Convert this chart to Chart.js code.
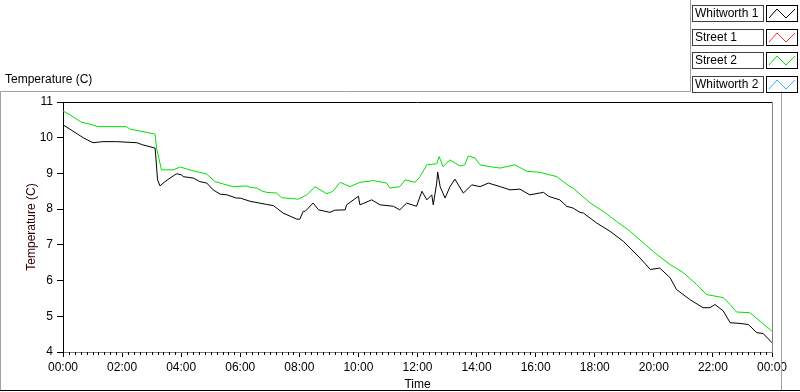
<!DOCTYPE html>
<html>
<head>
<meta charset="utf-8">
<script src="https://cdn.jsdelivr.net/npm/chart.js@4"></script>
<style>
  html, body { margin: 0; padding: 0; background: #fff; }
  #wrap { width: 800px; height: 392px; position: relative; }
</style>
</head>
<body>
<div id="wrap"><canvas id="tempchart" width="800" height="392"></canvas></div>
<script>
// time in minutes after midnight, values in deg C
const whitworth1Time = [0, 14, 41, 61, 81, 109, 150, 162, 187, 189, 192, 197, 207, 227, 231, 241, 244, 265, 278, 292, 305, 319, 333, 352, 360, 380, 414, 427, 434, 447, 475, 481, 488, 492, 508, 519, 542, 552, 573, 576, 600, 603, 627, 644, 671, 684, 698, 718, 729, 739, 749, 752, 759, 761, 766, 776, 786, 796, 813, 820, 830, 847, 864, 888, 908, 928, 948, 976, 986, 1009, 1016, 1023, 1036, 1050, 1057, 1084, 1111, 1138, 1172, 1193, 1212, 1233, 1246, 1273, 1300, 1314, 1324, 1341, 1355, 1375, 1392, 1409, 1422, 1440];
const whitworth1 = [10.36, 10.24, 10.00, 9.86, 9.89, 9.89, 9.86, 9.80, 9.71, 9.38, 8.82, 8.65, 8.77, 8.96, 8.99, 8.96, 8.91, 8.87, 8.77, 8.73, 8.54, 8.42, 8.40, 8.31, 8.31, 8.22, 8.13, 8.10, 8.03, 7.89, 7.72, 7.72, 7.94, 7.94, 8.17, 7.98, 7.91, 7.97, 7.98, 8.12, 8.36, 8.12, 8.26, 8.12, 8.08, 7.98, 8.17, 8.08, 8.50, 8.26, 8.40, 8.12, 8.73, 9.04, 8.63, 8.31, 8.63, 8.84, 8.45, 8.54, 8.68, 8.63, 8.73, 8.63, 8.54, 8.56, 8.40, 8.47, 8.36, 8.26, 8.17, 8.08, 8.03, 7.91, 7.89, 7.61, 7.38, 7.10, 6.63, 6.31, 6.35, 6.08, 5.75, 5.47, 5.24, 5.24, 5.33, 5.15, 4.82, 4.80, 4.77, 4.54, 4.52, 4.26];

const street2Time = [0, 14, 38, 55, 71, 129, 136, 170, 187, 190, 200, 224, 238, 265, 278, 292, 309, 345, 373, 380, 393, 406, 414, 434, 444, 478, 495, 512, 522, 536, 548, 563, 583, 603, 630, 657, 664, 684, 695, 715, 725, 739, 759, 764, 772, 786, 806, 816, 823, 837, 847, 867, 888, 918, 942, 969, 1003, 1016, 1030, 1036, 1050, 1071, 1097, 1124, 1152, 1179, 1206, 1233, 1260, 1287, 1307, 1341, 1355, 1368, 1395, 1416, 1436, 1440];
const street2 = [10.75, 10.64, 10.43, 10.38, 10.31, 10.31, 10.24, 10.15, 10.10, 9.71, 9.10, 9.10, 9.18, 9.07, 9.03, 8.98, 8.77, 8.63, 8.65, 8.61, 8.59, 8.50, 8.47, 8.45, 8.32, 8.28, 8.40, 8.63, 8.54, 8.43, 8.50, 8.75, 8.63, 8.75, 8.80, 8.73, 8.59, 8.63, 8.82, 8.75, 8.91, 9.24, 9.27, 9.47, 9.19, 9.38, 9.21, 9.24, 9.49, 9.43, 9.24, 9.19, 9.15, 9.24, 9.06, 9.03, 8.91, 8.77, 8.63, 8.59, 8.42, 8.17, 7.94, 7.66, 7.38, 7.05, 6.73, 6.45, 6.22, 5.89, 5.61, 5.52, 5.33, 5.12, 5.10, 4.86, 4.63, 4.58];

// Street 1 and Whitworth 2 appear only in the legend
const seriesNames = ['Whitworth 1', 'Street 1', 'Street 2', 'Whitworth 2'];
const seriesColors = ['#000000', '#ff3030', '#00e000', '#30b0ff'];

const yTicks = [4, 5, 6, 7, 8, 9, 10, 11];

const FONT = '"Liberation Sans", Arial, sans-serif';

function pts(t, v) {
  return t.map((m, i) => ({ x: m, y: v[i] }));
}

function hhmm(m) {
  const h = Math.floor(m / 60) % 24;
  return String(h).padStart(2, '0') + ':00';
}

// panel frame, plot frame, minor ticks, legend, top title
const decor = {
  id: 'decor',
  afterDraw(chart) {
    const ctx = chart.ctx;
    const a = chart.chartArea;
    const xs = chart.scales.x;
    ctx.save();
    ctx.lineWidth = 1;

    // outer panel
    ctx.strokeStyle = '#a0a0a0';
    ctx.beginPath();
    ctx.moveTo(0.5, 390);
    ctx.lineTo(0.5, 91.5);
    ctx.lineTo(690.5, 91.5);
    ctx.lineTo(690.5, 0);
    ctx.stroke();
    ctx.beginPath();
    ctx.moveTo(781.5, 91);
    ctx.lineTo(781.5, 390);
    ctx.stroke();
    ctx.strokeStyle = '#000';
    ctx.beginPath();
    ctx.moveTo(0, 390.5);
    ctx.lineTo(800, 390.5);
    ctx.stroke();

    // plot frame: top black, right grey
    ctx.strokeStyle = '#000';
    ctx.beginPath();
    ctx.moveTo(a.left, a.top + 0.5);
    ctx.lineTo(a.right, a.top + 0.5);
    ctx.stroke();
    ctx.strokeStyle = '#808080';
    ctx.beginPath();
    ctx.moveTo(a.right + 0.5, a.top);
    ctx.lineTo(a.right + 0.5, a.bottom);
    ctx.stroke();

    // minor ticks every 12 min
    ctx.strokeStyle = '#000';
    ctx.beginPath();
    for (let m = 0; m <= 1440; m += 12) {
      if (m % 120 === 0) continue;
      const px = Math.round(xs.getPixelForValue(m)) + 0.5;
      ctx.moveTo(px, a.bottom);
      ctx.lineTo(px, a.bottom + 3);
    }
    ctx.stroke();

    // title
    ctx.fillStyle = '#000';
    ctx.font = '12px ' + FONT;
    ctx.textBaseline = 'middle';
    ctx.textAlign = 'left';
    ctx.fillText('Temperature (C)', 5, 80);

    // legend
    seriesNames.forEach((name, i) => {
      const top = 5 + i * 23.5;
      const y0 = Math.round(top);
      ctx.fillStyle = '#fff';
      ctx.fillRect(692, y0, 71, 16);
      ctx.strokeStyle = '#404040';
      ctx.strokeRect(692.5, y0 + 0.5, 71, 16);
      ctx.fillStyle = '#000';
      ctx.fillText(name, 695, y0 + 8.5);
      ctx.strokeStyle = '#000';
      ctx.strokeRect(766.5, y0 + 0.5, 31, 16);
      ctx.strokeStyle = seriesColors[i];
      ctx.beginPath();
      ctx.moveTo(769, y0 + 13);
      ctx.lineTo(777, y0 + 4);
      ctx.lineTo(786, y0 + 13);
      ctx.lineTo(795, y0 + 4);
      ctx.stroke();
    });
    ctx.restore();
  }
};

new Chart(document.getElementById('tempchart'), {
  type: 'line',
  data: {
    datasets: [{
      label: seriesNames[0],
      data: pts(whitworth1Time, whitworth1),
      borderColor: seriesColors[0],
      borderWidth: 1
    }, {
      label: seriesNames[2],
      data: pts(street2Time, street2),
      borderColor: seriesColors[2],
      borderWidth: 1
    }]
  },
  options: {
    responsive: false,
    animation: false,
    events: [],
    parsing: false,
    elements: { point: { radius: 0 }, line: { tension: 0 } },
    layout: { padding: { top: 102, right: 28, left: 0, bottom: 0 } },
    plugins: { legend: { display: false }, tooltip: { enabled: false } },
    scales: {
      x: {
        type: 'linear',
        min: 0,
        max: 1440,
        afterFit(s) { s.height = 40; },
        afterBuildTicks(s) { s.ticks = []; for (let m = 0; m <= 1440; m += 120) s.ticks.push({ value: m }); },
        ticks: {
          color: '#000',
          font: { family: FONT, size: 12 },
          padding: 3,
          maxRotation: 0,
          autoSkip: false,
          callback: (v) => hhmm(v)
        },
        grid: { drawOnChartArea: false, tickLength: 5, color: '#000' },
        border: { color: '#808080', width: 1 },
        title: {
          display: true,
          text: 'Time',
          color: '#000',
          font: { family: FONT, size: 12 },
          padding: { top: 0, bottom: 0 }
        }
      },
      y: {
        min: 4,
        max: 11,
        afterFit(s) { s.width = 63; },
        afterBuildTicks(s) { s.ticks = yTicks.map(v => ({ value: v })); },
        ticks: {
          color: '#000',
          font: { family: FONT, size: 12 },
          padding: 4
        },
        grid: { drawOnChartArea: false, tickLength: 6, color: '#000' },
        border: { color: '#000', width: 1 },
        title: {
          display: true,
          text: 'Temperature (C)',
          color: '#300000',
          font: { family: FONT, size: 12 },
          padding: { top: 24, bottom: 0 }
        }
      }
    }
  },
  plugins: [decor]
});
</script>
</body>
</html>
